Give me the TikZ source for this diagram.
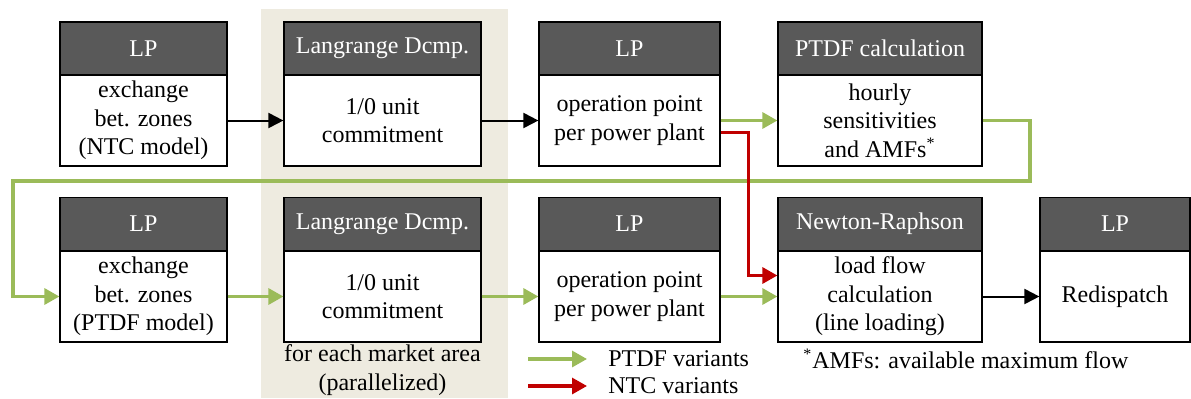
\documentclass[tikz,border=0pt]{standalone}
\usepackage{fontspec}
\setmainfont{Liberation Serif}
\usetikzlibrary{arrows.meta}

\definecolor{hdrgray}{HTML}{595959}
\definecolor{ptdfgreen}{HTML}{9BBB59}
\definecolor{ntcred}{HTML}{C00000}
\definecolor{bandbeige}{HTML}{EEEBE0}

\tikzset{
  head/.style={rectangle,draw=black,line width=0.6pt,fill=hdrgray,text=white,inner sep=0pt,minimum height=26.5pt},
  cell/.style={rectangle,draw=black,line width=0.6pt,fill=white,align=center,inner sep=0pt,minimum height=45.5pt},
  blk/.style={line width=1pt,-{Triangle[length=7.5pt,width=7.5pt]}},
  ptdf/.style={ptdfgreen,line width=1.6pt,-{Triangle[length=7.5pt,width=8pt]}},
  ntc/.style={ntcred,line width=1.6pt,-{Triangle[length=7.5pt,width=8pt]}},
}

\begin{document}
\begin{tikzpicture}[x=0.5pt,y=-0.5pt,font=\fontsize{12}{14.2}\selectfont]
\useasboundingbox (0,0) rectangle (1191,398);

% market area band
\fill[bandbeige] (261,9) rectangle (508,398);

% first pass (NTC)
\node[head,minimum width=83.5pt] (h1) at (143.5,48.5) {LP};
\node[cell,minimum width=83.5pt] (b1) at (143.5,120.5) {exchange\\bet. zones\\(NTC model)};
\node[head,minimum width=98.5pt] (h2) at (382.5,48.5) {Langrange Dcmp.};
\node[cell,minimum width=98.5pt] (b2) at (382.5,120.5) {1/0 unit\\commitment};
\node[head,minimum width=90.5pt] (h3) at (629.5,48.5) {LP};
\node[cell,minimum width=90.5pt] (b3) at (629.5,120.5) {operation point\\per power plant};
\node[head,minimum width=102pt] (h4) at (880,48.5) {PTDF calculation};
\node[cell,minimum width=102pt] (b4) at (880,120.5) {hourly\\sensitivities\\and AMFs\textsuperscript{*}};

% second pass (PTDF)
\node[head,minimum width=83.5pt] (h5) at (143.5,224) {LP};
\node[cell,minimum width=83.5pt] (b5) at (143.5,296.5) {exchange\\bet. zones\\(PTDF model)};
\node[head,minimum width=98.5pt] (h6) at (382.5,224) {Langrange Dcmp.};
\node[cell,minimum width=98.5pt] (b6) at (382.5,296.5) {1/0 unit\\commitment};
\node[head,minimum width=90.5pt] (h7) at (629.5,224) {LP};
\node[cell,minimum width=90.5pt] (b7) at (629.5,296.5) {operation point\\per power plant};
\node[head,minimum width=102pt] (h8) at (880,224) {Newton-Raphson};
\node[cell,minimum width=102pt] (b8) at (880,296.5) {load flow\\calculation\\(line loading)};
\node[head,minimum width=75pt] (h9) at (1115,224) {LP};
\node[cell,minimum width=75pt] (b9) at (1115,296.5) {Redispatch};

\node[align=center] (par) at (382.5,370) {for each market area\\(parallelized)};

% connections
\draw[blk] (b1) -- (b2);
\draw[blk] (b2) -- (b3);
\draw[ptdf] (b3) -- (b4);
\coordinate (loopr) at (1030,181);
\coordinate (loopl) at (13,181);
\draw[ptdf] (b4.east) -| (loopr) -- (loopl) |- (b5.west);
\draw[ptdf] (b5) -- (b6);
\draw[ptdf] (b6) -- (b7);
\draw[ptdf] (b7) -- (b8);
\draw[ntc] ([yshift=-6pt]b3.east) -| ([xshift=-14.5pt,yshift=10.5pt]b8.west) -- ([yshift=10.5pt]b8.west);
\draw[blk] (b8) -- (b9);

% legend
\coordinate (lg1) at (528,359);
\coordinate (lg2) at (587,359);
\coordinate (lr1) at (528,386);
\coordinate (lr2) at (587,386);
\draw[ptdf] (lg1) -- (lg2);
\draw[ntc] (lr1) -- (lr2);
\node[anchor=west,inner sep=0pt] (lgt) at (608,359) {PTDF variants};
\node[anchor=west,inner sep=0pt] (lrt) at (608,386) {NTC variants};
\node[anchor=west,inner sep=0pt] (note) at (803,359) {\textsuperscript{*}AMFs: available maximum flow};

\end{tikzpicture}
\end{document}
